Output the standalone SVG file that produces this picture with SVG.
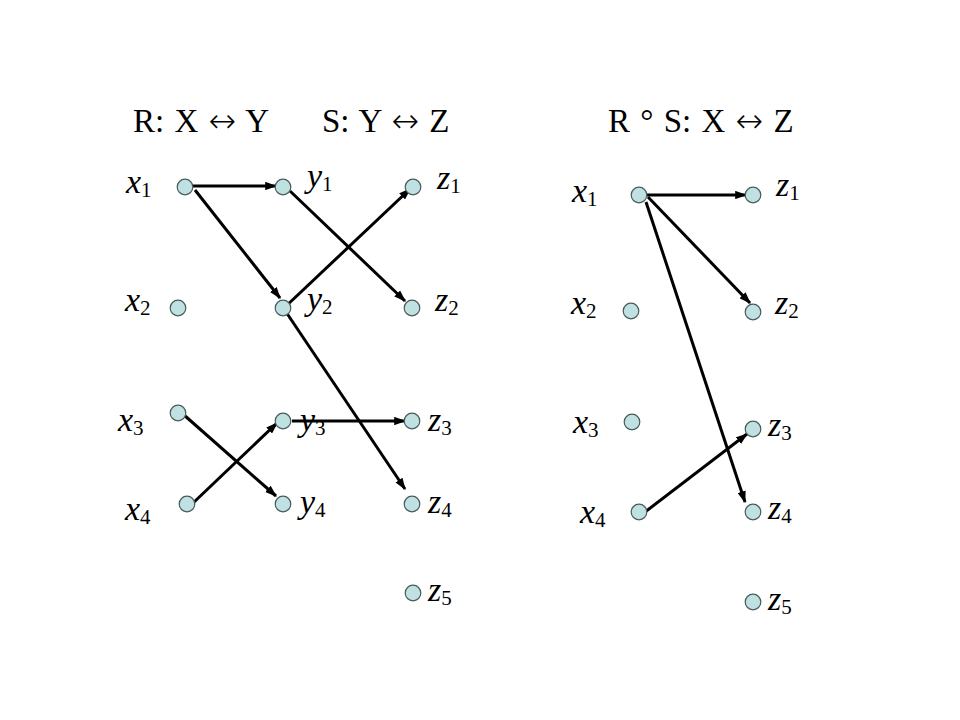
<svg xmlns="http://www.w3.org/2000/svg" width="960" height="720" viewBox="0 0 960 720">
<defs>
<style>
.n{fill:#bfe1e2;stroke:#4a5a5a;stroke-width:1.2}
.t{font-family:"Liberation Serif","Times New Roman",serif;font-size:33px;fill:#000;word-spacing:2px}
.a{font-family:"DejaVu Sans",sans-serif;font-size:33px;font-weight:200}
.v{font-family:"Liberation Serif","Times New Roman",serif;font-size:34px;font-style:italic;fill:#000}
.s{font-size:21px;font-style:normal}
.c{stroke:#000;stroke-width:3;fill:none;marker-end:url(#ah)}
</style>
<marker id="ah" viewBox="0 0 10 7" refX="9" refY="3.5" markerWidth="4" markerHeight="2.9" orient="auto" markerUnits="strokeWidth">
<path d="M0,0 L10,3.5 L0,7 z" fill="#000"/>
</marker>
</defs>
<rect width="960" height="720" fill="#fff"/>
<g id="titles">
<text class="t" x="133" y="132">R: X <tspan class="a">↔</tspan> Y</text>
<text class="t" x="322" y="132">S: Y <tspan class="a">↔</tspan> Z</text>
<text class="t" x="608" y="132">R ° S: X <tspan class="a">↔</tspan> Z</text>
</g>
<g id="connectors">
<line class="c" x1="193" y1="186" x2="276" y2="186"/>
<line class="c" x1="195" y1="190" x2="280" y2="298"/>
<line class="c" x1="290" y1="191" x2="405" y2="301"/>
<line class="c" x1="284" y1="308" x2="410" y2="189"/>
<line class="c" x1="286" y1="312" x2="405" y2="489"/>
<line class="c" x1="184" y1="415" x2="276" y2="496"/>
<line class="c" x1="192" y1="504" x2="277" y2="423"/>
<line class="c" x1="292" y1="421" x2="405" y2="421"/>
<line class="c" x1="647" y1="195" x2="746" y2="195"/>
<line class="c" x1="648" y1="197" x2="750" y2="303"/>
<line class="c" x1="646" y1="202" x2="745" y2="502"/>
<line class="c" x1="645" y1="512" x2="747" y2="434"/>
</g>
<g id="node-x1"><circle class="n" cx="185" cy="187" r="7.8"/><text class="v" x="126" y="193">x<tspan class="s" dy="4">1</tspan></text></g>
<g id="node-x2"><circle class="n" cx="178" cy="308" r="7.8"/><text class="v" x="125" y="311">x<tspan class="s" dy="4">2</tspan></text></g>
<g id="node-x3"><circle class="n" cx="178" cy="413" r="7.8"/><text class="v" x="118" y="431">x<tspan class="s" dy="4">3</tspan></text></g>
<g id="node-x4"><circle class="n" cx="187" cy="504" r="7.8"/><text class="v" x="125" y="520">x<tspan class="s" dy="4">4</tspan></text></g>
<g id="node-y1"><circle class="n" cx="283" cy="187" r="7.8"/><text class="v" x="307" y="187">y<tspan class="s" dy="4">1</tspan></text></g>
<g id="node-y2"><circle class="n" cx="283" cy="308" r="7.8"/><text class="v" x="307" y="310">y<tspan class="s" dy="4">2</tspan></text></g>
<g id="node-y3"><circle class="n" cx="283" cy="421" r="7.8"/><text class="v" x="300" y="431">y<tspan class="s" dy="4">3</tspan></text></g>
<g id="node-y4"><circle class="n" cx="283" cy="504" r="7.8"/><text class="v" x="300" y="513">y<tspan class="s" dy="4">4</tspan></text></g>
<g id="node-z1"><circle class="n" cx="413" cy="187" r="7.8"/><text class="v" x="437" y="189">z<tspan class="s" dy="4">1</tspan></text></g>
<g id="node-z2"><circle class="n" cx="412" cy="308" r="7.8"/><text class="v" x="435" y="311">z<tspan class="s" dy="4">2</tspan></text></g>
<g id="node-z3"><circle class="n" cx="412" cy="421" r="7.8"/><text class="v" x="428" y="431">z<tspan class="s" dy="4">3</tspan></text></g>
<g id="node-z4"><circle class="n" cx="412" cy="504" r="7.8"/><text class="v" x="428" y="513">z<tspan class="s" dy="4">4</tspan></text></g>
<g id="node-z5"><circle class="n" cx="413" cy="593" r="7.8"/><text class="v" x="428" y="601">z<tspan class="s" dy="4">5</tspan></text></g>
<g id="node-rx1"><circle class="n" cx="639" cy="195" r="7.8"/><text class="v" x="572" y="202">x<tspan class="s" dy="4">1</tspan></text></g>
<g id="node-rx2"><circle class="n" cx="631" cy="311" r="7.8"/><text class="v" x="571" y="314">x<tspan class="s" dy="4">2</tspan></text></g>
<g id="node-rx3"><circle class="n" cx="632" cy="422" r="7.8"/><text class="v" x="573" y="433">x<tspan class="s" dy="4">3</tspan></text></g>
<g id="node-rx4"><circle class="n" cx="639" cy="512" r="7.8"/><text class="v" x="580" y="523">x<tspan class="s" dy="4">4</tspan></text></g>
<g id="node-rz1"><circle class="n" cx="753" cy="195" r="7.8"/><text class="v" x="776" y="196">z<tspan class="s" dy="4">1</tspan></text></g>
<g id="node-rz2"><circle class="n" cx="753" cy="312" r="7.8"/><text class="v" x="775" y="314">z<tspan class="s" dy="4">2</tspan></text></g>
<g id="node-rz3"><circle class="n" cx="753" cy="429" r="7.8"/><text class="v" x="768" y="436">z<tspan class="s" dy="4">3</tspan></text></g>
<g id="node-rz4"><circle class="n" cx="753" cy="512" r="7.8"/><text class="v" x="768" y="519">z<tspan class="s" dy="4">4</tspan></text></g>
<g id="node-rz5"><circle class="n" cx="753" cy="602" r="7.8"/><text class="v" x="768" y="610">z<tspan class="s" dy="4">5</tspan></text></g>
</svg>
